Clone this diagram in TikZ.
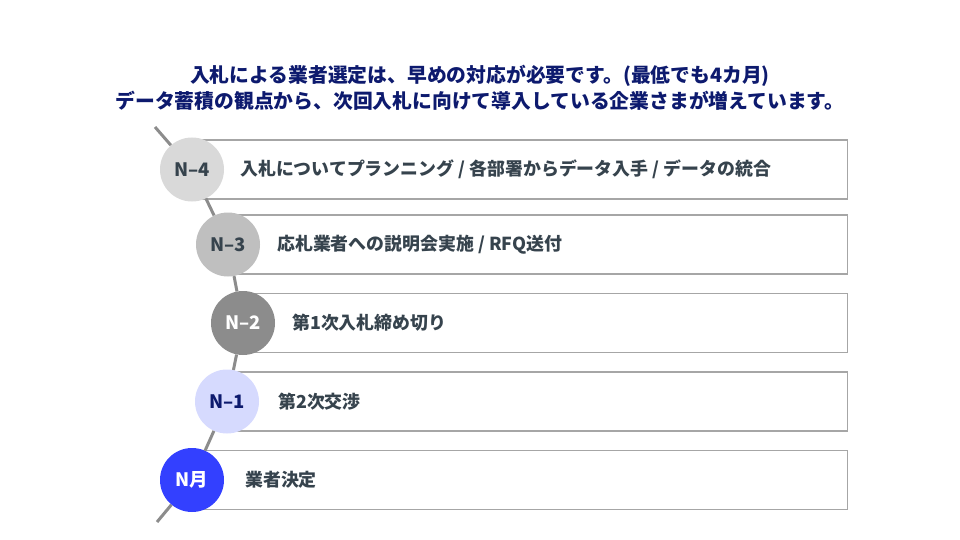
\documentclass[tikz,border=0pt]{standalone}
\usepackage{fontspec}
\setmainfont{Noto Sans CJK JP}
\usepackage{tikz}
\usetikzlibrary{positioning}

\definecolor{titleblue}{HTML}{0D1A6E}
\definecolor{labelgray}{HTML}{36434D}
\definecolor{boxgray}{HTML}{A6A6A6}
\definecolor{spinegray}{HTML}{8C8C8C}
\definecolor{stageA}{HTML}{D9D9D9}
\definecolor{stageB}{HTML}{BFBFBF}
\definecolor{stageC}{HTML}{8C8C8C}
\definecolor{stageD}{HTML}{D6DAFE}
\definecolor{stageE}{HTML}{3340FF}

\begin{document}
\begin{tikzpicture}[x=1pt,y=-1pt,
  stage/.style={circle, minimum size=64pt, inner sep=0pt,
    font=\bfseries\fontsize{18.5}{18.5}\selectfont},
  stepbox/.style={draw=boxgray, line width=1.2pt, anchor=west,
    minimum height=59pt, inner sep=0pt},
  task/.style={anchor=west, text=labelgray, inner sep=0pt,
    font=\bfseries\fontsize{17.9}{17.9}\selectfont},
  spine/.style={spinegray, line width=3pt}]
  \useasboundingbox (0,0) rectangle (960,540);

  % title
  \node[text=titleblue, align=center,
        font=\bfseries\fontsize{19.8}{26}\selectfont] (Title) at (480,88)
    {入札による業者選定は、早めの対応が必要です。(最低でも4カ月)\\
     データ蓄積の観点から、次回入札に向けて導入している企業さまが増えています。};

  % boxes
  \node[stepbox, minimum width=655pt] (BoxA) at (192,169.5) {};
  \node[stepbox, minimum width=619pt] (BoxB) at (228,244.5) {};
  \node[stepbox, minimum width=604pt] (BoxC) at (243,323) {};
  \node[stepbox, minimum width=620pt] (BoxD) at (227,401.5) {};
  \node[stepbox, minimum width=655pt] (BoxE) at (192,480) {};

  % stages
  \node[stage, fill=stageA, text=labelgray] (StageA) at (192,169.5) {N--4};
  \node[stage, fill=stageB, text=labelgray] (StageB) at (228,244.5) {N--3};
  \node[stage, fill=stageC, text=white]     (StageC) at (243,323)   {N--2};
  \node[stage, fill=stageD, text=titleblue] (StageD) at (227,401.5) {N--1};
  \node[stage, fill=stageE, text=white]     (StageE) at (192,480)   {N月};

  % tasks
  \node[task] (TaskA) at (240,169.5) {入札についてプランニング / 各部署からデータ入手 / データの統合};
  \node[task] (TaskB) at (277,244.5) {応札業者への説明会実施 / RFQ送付};
  \node[task] (TaskC) at (292,323)   {第1次入札締め切り};
  \node[task] (TaskD) at (278,401.5) {第2次交渉};
  \node[task] (TaskE) at (245,480)   {業者決定};

  % spine
  \coordinate (SpineTop) at (155,127);
  \coordinate (SpineEnd) at (157,522);
  \path[spine]
    (SpineTop) edge (StageA)
    (StageA) edge (StageB)
    (StageB) edge (StageC)
    (StageC) edge (StageD)
    (StageD) edge (StageE)
    (StageE) edge (SpineEnd);
\end{tikzpicture}
\end{document}
